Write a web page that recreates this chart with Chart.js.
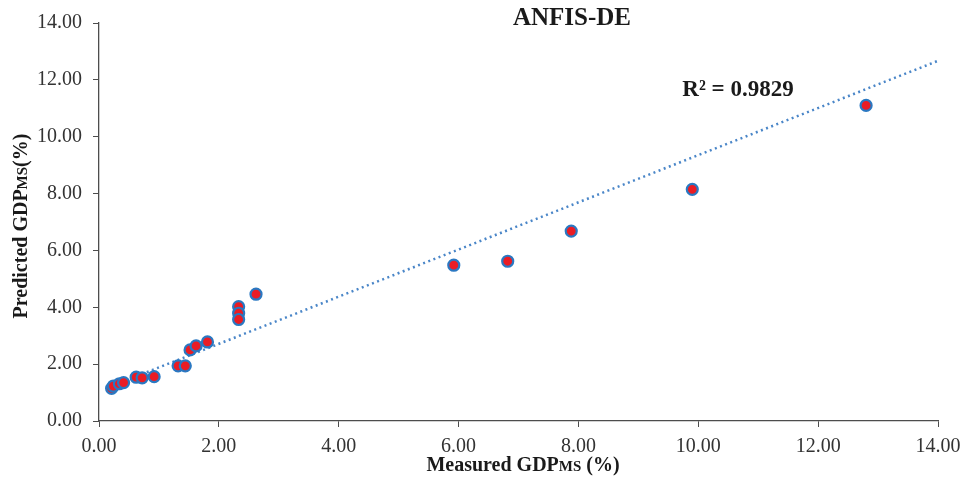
<!DOCTYPE html>
<html>
<head>
<meta charset="utf-8">
<script src="https://cdn.jsdelivr.net/npm/chart.js@4"></script>
<style>
  html, body { margin: 0; padding: 0; background: #fff; }
  #wrap { width: 969px; height: 492px; }
</style>
</head>
<body>
<div id="wrap"><canvas id="scatter" width="969" height="492"></canvas></div>
<script>
// measured vs predicted values
const measured = [0.21, 0.24, 0.34, 0.41, 0.62, 0.72, 0.92, 1.32, 1.44, 1.52, 1.62, 1.81, 2.33, 2.33, 2.33, 2.62, 5.92, 6.82, 7.88, 9.90, 12.80];
const predicted = [1.15, 1.23, 1.31, 1.35, 1.54, 1.52, 1.56, 1.94, 1.94, 2.50, 2.64, 2.78, 4.02, 3.79, 3.57, 4.46, 5.48, 5.62, 6.68, 8.15, 11.10];

// linear trendline ends
const trendX = [0.20, 14.00];
const trendY = [1.22, 12.67];

const axisTicks = [0, 2, 4, 6, 8, 10, 12, 14];
const chartTitle = 'ANFIS-DE';
const r2Text = 'R² = 0.9829';

const serif = '"Liberation Serif", "Times New Roman", serif';
const axisColor = '#4d4d4d';

// titles with the small "MS" part
function mixedText(ctx, parts, x, y, rotate) {
  ctx.save();
  ctx.translate(x, y);
  if (rotate) ctx.rotate(-Math.PI / 2);
  let total = 0;
  parts.forEach(p => {
    ctx.font = 'bold ' + p.size + 'px ' + serif;
    total += ctx.measureText(p.text).width;
  });
  let cx = -total / 2;
  ctx.textBaseline = 'alphabetic';
  ctx.fillStyle = '#1a1a1a';
  parts.forEach(p => {
    ctx.font = 'bold ' + p.size + 'px ' + serif;
    ctx.fillText(p.text, cx, 7);
    cx += ctx.measureText(p.text).width;
  });
  ctx.restore();
}

const labelsPlugin = {
  id: 'labels',
  afterDraw(chart) {
    const ctx = chart.ctx;
    ctx.save();
    ctx.fillStyle = '#1a1a1a';
    ctx.textAlign = 'center';
    ctx.textBaseline = 'middle';
    ctx.font = 'bold 25px ' + serif;
    ctx.fillText(chartTitle, 572, 19);
    ctx.font = 'bold 23px ' + serif;
    ctx.fillText(r2Text, 738, 90);
    ctx.textAlign = 'left';
    mixedText(ctx, [
      { text: 'Measured GDP', size: 20 },
      { text: 'MS', size: 15 },
      { text: ' (%)', size: 20 }
    ], 523, 464, false);
    mixedText(ctx, [
      { text: 'Predicted GDP', size: 20 },
      { text: 'MS', size: 15 },
      { text: '(%)', size: 20 }
    ], 20, 226, true);
    ctx.restore();
  }
};

const pts = measured.map((m, i) => ({ x: m, y: predicted[i] }));
const trend = trendX.map((t, i) => ({ x: t, y: trendY[i] }));

new Chart(document.getElementById('scatter'), {
  type: 'scatter',
  data: {
    datasets: [
      {
        label: 'ANFIS-DE',
        data: pts,
        backgroundColor: '#ea1c24',
        borderColor: '#2a78c2',
        borderWidth: 2.2,
        pointRadius: 5.5,
        order: 1
      },
      {
        label: 'Linear',
        type: 'line',
        data: trend,
        borderColor: '#4a86c8',
        borderWidth: 2.5,
        borderDash: [2, 3.5],
        pointRadius: 0,
        fill: false,
        order: 2
      }
    ]
  },
  options: {
    responsive: false,
    animation: false,
    layout: { padding: { top: 22, right: 31, left: 0, bottom: 0 } },
    plugins: {
      legend: { display: false },
      tooltip: { enabled: false }
    },
    scales: {
      x: {
        type: 'linear',
        min: 0,
        max: 14,
        afterBuildTicks: s => { s.ticks = axisTicks.map(v => ({ value: v })); },
        afterFit: s => { s.height = 71; },
        grid: { drawOnChartArea: false, color: axisColor, tickLength: 6 },
        border: { color: axisColor, width: 1.3 },
        ticks: {
          color: '#333',
          padding: 8,
          maxRotation: 0,
          font: { family: serif, size: 20 },
          callback: v => v.toFixed(2)
        }
      },
      y: {
        type: 'linear',
        min: 0,
        max: 14,
        afterBuildTicks: s => { s.ticks = axisTicks.map(v => ({ value: v })); },
        afterFit: s => { s.width = 99; },
        grid: { drawOnChartArea: false, color: axisColor, tickLength: 6 },
        border: { color: axisColor, width: 1.3 },
        ticks: {
          color: '#333',
          padding: 11,
          font: { family: serif, size: 20 },
          callback: v => v.toFixed(2)
        }
      }
    }
  },
  plugins: [labelsPlugin]
});
</script>
</body>
</html>
